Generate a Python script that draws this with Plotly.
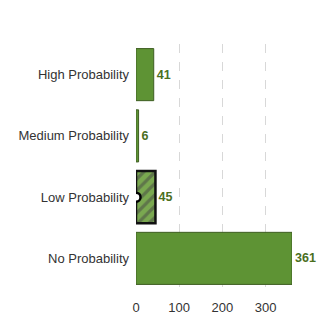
import plotly.graph_objects as go

categories = ["High Probability", "Medium Probability", "Low Probability", "No Probability"]
values = [41, 6, 45, 361]
tick_vals = [0, 100, 200, 300]

fill = ["#5e9334", "#5e9334", "#7aa850", "#5e9334"]
line_col = ["#3e5e22", "#3e5e22", "#111111", "#3e5e22"]
line_w = [1, 1, 2.5, 1]
patterns = ["", "", "/", ""]

fig = go.Figure()
fig.add_trace(go.Bar(
    y=categories, x=values, orientation="h",
    width=0.85,
    marker=dict(color=fill, line=dict(color=line_col, width=line_w),
                pattern=dict(shape=patterns, fgcolor="#4d7e28", bgcolor="#8cbb6a", size=8, solidity=0.4)),
    text=[str(v) for v in values], textposition="outside", cliponaxis=False,
    textfont=dict(family="Arial, Liberation Sans, sans-serif", size=12.5, color="#4b6f1e", weight="bold"),
    hoverinfo="skip",
))
fig.add_trace(go.Scatter(
    x=[0], y=[categories[2]], mode="markers",
    marker=dict(symbol="circle", size=9, color="white", line=dict(color="black", width=2.5)),
    hoverinfo="skip", cliponaxis=True,
))
fig.update_layout(
    width=318, height=319,
    margin=dict(l=136, r=26, t=44, b=30, autoexpand=False),
    paper_bgcolor="white", plot_bgcolor="white",
    showlegend=False,
    font=dict(family="Arial, Liberation Sans, sans-serif", size=13, color="#333333"),
)
fig.update_yaxes(categoryorder="array", categoryarray=categories[::-1],
                 showgrid=False, showline=False, ticks="", ticklen=0, automargin=False,
                 ticklabelstandoff=6,
                 tickfont=dict(size=13, color="#333333"))
fig.update_xaxes(range=[0, 361], tickvals=tick_vals, showgrid=True,
                 gridcolor="#d8d8d8", griddash="dash", gridwidth=1, automargin=False,
                 zeroline=False, showline=False, ticks="", ticklabelstandoff=9,
                 tickfont=dict(size=13, color="#333333"))
fig.write_html("out.html", config={"displayModeBar": False},
               post_script="document.body.style.margin='0';document.body.style.overflow='hidden';")
